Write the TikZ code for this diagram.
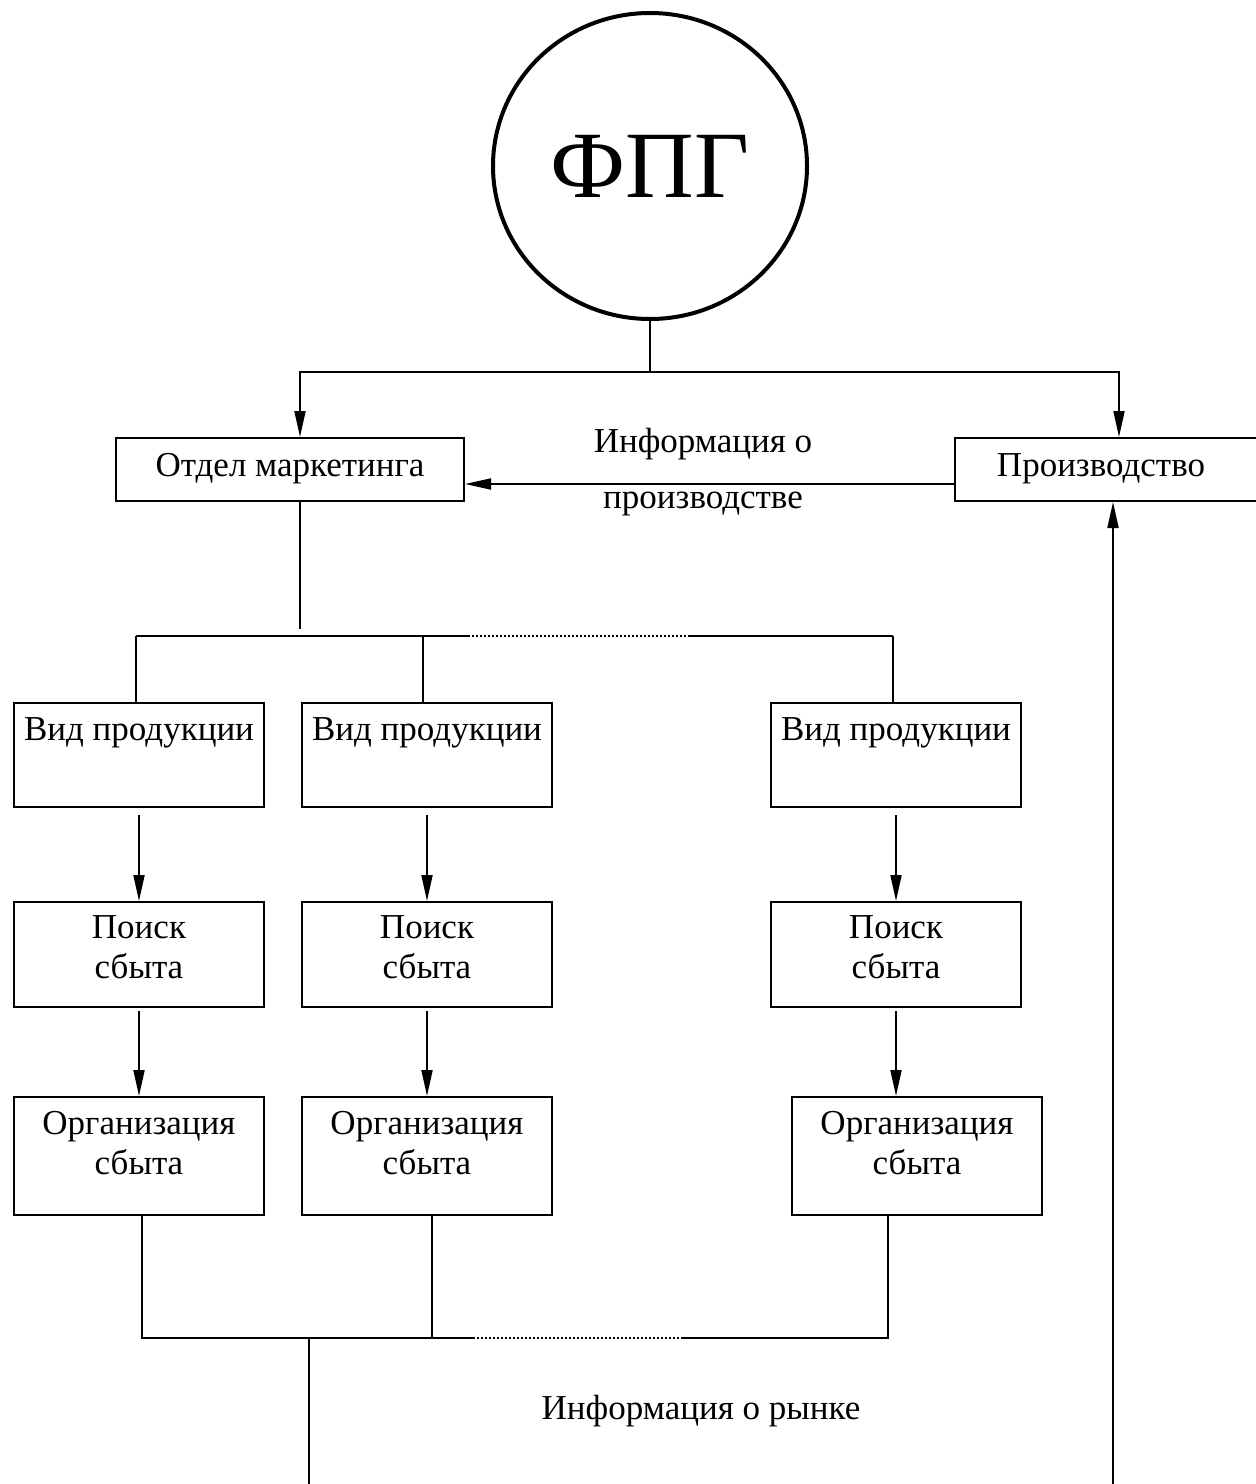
\documentclass[tikz,border=0pt]{standalone}
\usepackage{fontspec}
\setmainfont{Liberation Serif}
\usetikzlibrary{arrows.meta,shapes.geometric}

% fixed-size box content: width, height, height of the first line, text
\newcommand\cellbox[4]{\parbox[c][#2][t]{#1}{\centering\rule{0pt}{#3}#4\par}}

\begin{document}
\begin{tikzpicture}[x=1bp,y=-1bp,
  every node/.style={font=\fontsize{35bp}{40bp}\selectfont},
  box/.style={draw,rectangle,line width=2bp,inner sep=0pt,anchor=north west},
  lbl/.style={inner sep=0pt,anchor=base},
  conn/.style={line width=1.9bp},
  arr/.style={conn,-{Triangle[length=26bp,width=11bp]}},
  dotline/.style={line width=1.6bp,dash pattern=on 1.6bp off 2.4bp}]

\fill[white] (0,0) rectangle (1255,1484);
\path[use as bounding box] (0,0) rectangle (1255,1484);

% head of the group
\node[draw,ellipse,line width=4bp,minimum width=314bp,minimum height=306bp,
      inner sep=0pt,font=\fontsize{95bp}{100bp}\selectfont] (fpg) at (650,166) {ФПГ};

% second level
\node[box] (mk) at (115,437) {\cellbox{348bp}{63bp}{38bp}{Отдел маркетинга}};
\node[box] (pr) at (954,437) {\cellbox{312bp}{63bp}{38bp}{\hspace*{-20bp}Производство}};
\node[lbl] (info1) at (703,452) {Информация о};
\node[lbl] (info2) at (703,508) {производстве};

% product lines
\node[box] (v1) at (13,702)  {\cellbox{250bp}{104bp}{37bp}{Вид продукции}};
\node[box] (v2) at (301,702) {\cellbox{250bp}{104bp}{37bp}{Вид продукции}};
\node[box] (v3) at (770,702) {\cellbox{250bp}{104bp}{37bp}{Вид продукции}};

\node[box] (p1) at (13,901)  {\cellbox{250bp}{105bp}{36bp}{Поиск\\сбыта}};
\node[box] (p2) at (301,901) {\cellbox{250bp}{105bp}{36bp}{Поиск\\сбыта}};
\node[box] (p3) at (770,901) {\cellbox{250bp}{105bp}{36bp}{Поиск\\сбыта}};

\node[box] (o1) at (13,1096)  {\cellbox{250bp}{118bp}{37bp}{Организация\\сбыта}};
\node[box] (o2) at (301,1096) {\cellbox{250bp}{118bp}{37bp}{Организация\\сбыта}};
\node[box] (o3) at (791,1096) {\cellbox{250bp}{118bp}{37bp}{Организация\\сбыта}};

\node[lbl] (mkt) at (701,1419) {Информация о рынке};

% branching points
\coordinate (split) at (650,372);
\coordinate (mkdrop) at (300,629);
\coordinate (bL) at (136,636);
\coordinate (bM) at (423,636);
\coordinate (bD1) at (468,636);
\coordinate (bD2) at (688,636);
\coordinate (bR) at (893,636);
\coordinate (cL) at (142,1338);
\coordinate (cOut) at (309,1338);
\coordinate (cM) at (432,1338);
\coordinate (cD1) at (473,1338);
\coordinate (cD2) at (682,1338);
\coordinate (cR) at (888,1338);
\coordinate (cEnd) at (309,1492);
\coordinate (rStart) at (1113,1492);

% top tree
\draw[conn] (fpg.south) -- (split);
\draw[arr] (split) -| (mkdrop |- mk.north);
\draw[arr] (split) -| ([xshift=8bp]pr.north);
\draw[arr] ([yshift=-14.5bp]pr.west) -- ([yshift=-14.5bp]mk.east);

% marketing to product lines
\draw[conn] (mkdrop |- mk.south) -- (mkdrop);
\draw[conn] (bL) -- (bD1);
\draw[dotline] (bD1) -- (bD2);
\draw[conn] (bD2) -- (bR);
\draw[conn] (bL) -- (bL |- v1.north);
\draw[conn] (bM) -- (bM |- v2.north);
\draw[conn] (bR) -- (bR |- v3.north);

% inside each product line
\draw[arr] ([yshift=-7bp]v1.south) -- (p1.north);
\draw[arr] ([yshift=-7bp]v2.south) -- (p2.north);
\draw[arr] ([yshift=-7bp]v3.south) -- (p3.north);
\draw[arr] ([yshift=-3bp]p1.south) -- (p1.south |- o1.north);
\draw[arr] ([yshift=-3bp]p2.south) -- (p2.south |- o2.north);
\draw[arr] ([yshift=-3bp]p3.south) -- (p3.south |- o3.north);

% market feedback
\draw[conn] (o1.south -| cL) -- (cL) -- (cD1);
\draw[dotline] (cD1) -- (cD2);
\draw[conn] (cD2) -- (cR) -- (o3.south -| cR);
\draw[conn] (o2.south -| cM) -- (cM);
\draw[conn] (cOut) -- (cEnd);
\draw[arr] (rStart) -- (rStart |- pr.south);
\end{tikzpicture}
\end{document}
